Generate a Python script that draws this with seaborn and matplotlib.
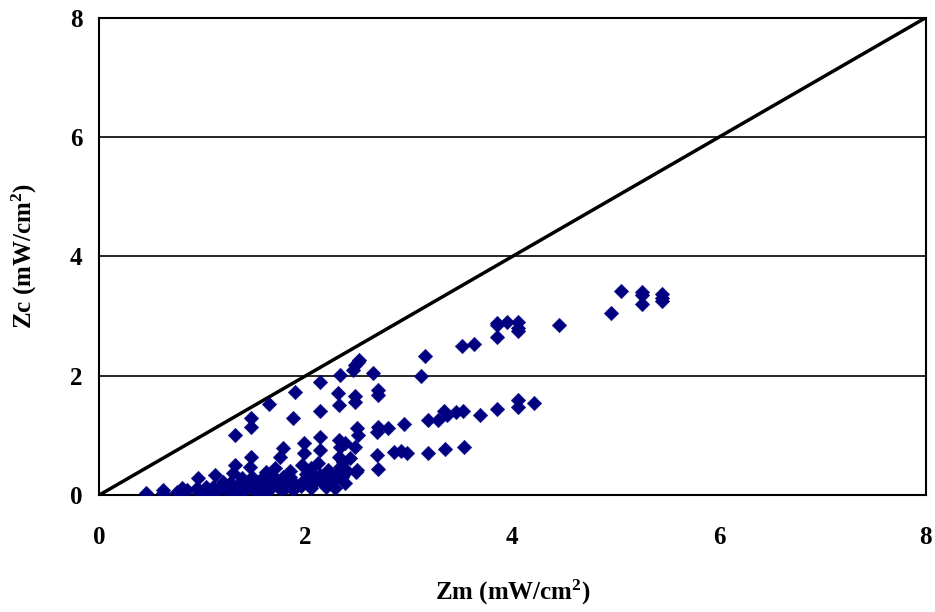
import matplotlib
matplotlib.use("Agg")
import matplotlib.pyplot as plt
import seaborn as sns
import pandas as pd

zm = [0.45, 0.62, 0.62, 0.75, 0.80, 0.85, 0.80, 0.95, 0.96, 0.97, 1.03, 1.05, 1.10, 1.12, 1.12,
      1.17, 1.20, 1.24, 1.27, 1.30, 1.32, 1.32, 1.33, 1.37, 1.38, 1.40, 1.42, 1.46, 1.47, 1.47,
      1.47, 1.48, 1.48, 1.50, 1.55, 1.56, 1.58, 1.62, 1.63, 1.64, 1.65, 1.66, 1.69, 1.70, 1.72,
      1.75, 1.78, 1.78, 1.80, 1.82, 1.85, 1.85, 1.88, 1.90, 1.90, 1.96, 1.98, 1.98, 1.98, 2.00,
      2.02, 2.05, 2.08, 2.12, 2.14, 2.14, 2.14, 2.14, 2.14, 2.17, 2.18, 2.22, 2.25, 2.27, 2.30,
      2.32, 2.32, 2.33, 2.33, 2.32, 2.31, 2.33, 2.35, 2.36, 2.38, 2.40, 2.43, 2.46, 2.48, 2.48,
      2.48, 2.49, 2.50, 2.50, 2.51, 2.51, 2.52, 2.48, 2.65, 2.69, 2.69, 2.70, 2.70, 2.70, 2.70,
      2.80, 2.85, 2.92, 2.95, 2.98, 3.12, 3.15, 3.18, 3.18, 3.28, 3.34, 3.35, 3.37, 3.45, 3.51,
      3.52, 3.53, 3.63, 3.69, 3.85, 3.85, 3.85, 3.85, 3.95, 4.05, 4.05, 4.05, 4.05, 4.05, 4.21,
      4.45, 4.95, 5.05, 5.25, 5.25, 5.25, 5.45, 5.45, 5.45,
      1.08, 1.15, 1.28, 1.35, 1.52, 1.60, 1.68, 1.75, 1.88, 1.95, 2.05, 2.10, 2.20, 2.28, 2.38]
zc = [0.03, 0.08, 0.03, 0.05, 0.12, 0.08, 0.02, 0.12, 0.28, 0.04, 0.14, 0.05, 0.14, 0.34, 0.05,
      0.10, 0.22, 0.08, 0.20, 0.37, 0.50, 1.00, 0.12, 0.05, 0.28, 0.18, 0.10, 0.47, 0.64, 1.14,
      1.29, 0.30, 0.20, 0.08, 0.15, 0.25, 0.05, 0.38, 0.20, 1.53, 0.10, 0.13, 0.30, 0.45, 0.18,
      0.64, 0.79, 0.30, 0.12, 0.22, 0.30, 0.40, 1.29, 1.73, 0.18, 0.50, 0.70, 0.87, 0.25, 0.35,
      0.29, 0.45, 0.20, 0.53, 0.76, 0.97, 1.41, 1.90, 0.34, 0.20, 0.28, 0.42, 0.25, 0.25, 0.35,
      0.64, 0.92, 0.81, 0.47, 1.51, 1.71, 2.01, 0.30, 0.55, 0.88, 0.40, 0.62, 2.10, 0.81, 1.56,
      1.66, 0.39, 0.42, 1.12, 1.00, 2.23, 2.27, 2.18, 2.05, 0.67, 1.06, 0.43, 1.14, 1.68, 1.76,
      1.12, 0.72, 0.74, 1.19, 0.71, 2.00, 2.33, 0.70, 1.26, 1.26, 1.41, 0.77, 1.34, 1.39, 2.50,
      1.41, 0.81, 2.53, 1.34, 1.44, 2.65, 2.85, 2.88, 2.90, 2.90, 2.80, 2.75, 1.59, 1.48, 1.55,
      2.85, 3.05, 3.42, 3.40, 3.35, 3.20, 3.37, 3.30, 3.25,
      0.02, 0.08, 0.04, 0.20, 0.12, 0.06, 0.22, 0.10, 0.08, 0.15, 0.12, 0.30, 0.14, 0.12, 0.20]

line_pts = [0, 8]
x_ticks = [0, 2, 4, 6, 8]
y_ticks = [0, 2, 4, 6, 8]

df = pd.DataFrame({"Zm": zm, "Zc": zc})

sns.set_theme(style="white")
plt.rcParams["font.family"] = ["Liberation Serif", "DejaVu Serif"]
plt.rcParams["font.weight"] = "bold"
plt.rcParams["mathtext.fontset"] = "custom"
plt.rcParams["mathtext.rm"] = "Liberation Serif:bold"
plt.rcParams["mathtext.bf"] = "Liberation Serif:bold"
plt.rcParams["mathtext.it"] = "Liberation Serif:bold"
plt.rcParams["text.color"] = "black"
plt.rcParams["axes.labelcolor"] = "black"
plt.rcParams["xtick.color"] = "black"
plt.rcParams["ytick.color"] = "black"

fig = plt.figure(figsize=(9.35, 6.12), dpi=100)
ax = fig.add_axes([0.106, 0.191, 0.884, 0.780])

for yv in y_ticks[1:-1]:
    ax.axhline(yv, color="black", lw=1.2, zorder=1)

sns.lineplot(x=line_pts, y=line_pts, color="black", lw=2.5, ax=ax, zorder=2)
sns.scatterplot(data=df, x="Zm", y="Zc", marker="D", color="#000080", s=55,
                edgecolor="#000080", linewidth=0.3, ax=ax, zorder=3)

ax.set_xlim(0, 8)
ax.set_ylim(0, 8)
ax.set_xticks(x_ticks)
ax.set_yticks(y_ticks)
ax.set_xticklabels([str(t) for t in x_ticks], fontsize=18, fontweight="bold", color="black")
ax.set_yticklabels([str(t) for t in y_ticks], fontsize=18, fontweight="bold", color="black")
ax.tick_params(axis="x", direction="in", length=7, width=1.2, color="black", pad=22)
ax.tick_params(axis="y", direction="out", length=0, width=1.2, color="black", pad=12)
ax.set_xlabel("Zm (mW/cm$^{2}$)", fontsize=18, fontweight="bold", labelpad=21, color="black")
ax.set_ylabel("Zc (mW/cm$^{2}$)", fontsize=18, fontweight="bold", labelpad=22, color="black")
for sp in ax.spines.values():
    sp.set_color("black")
    sp.set_linewidth(1.5)
    sp.set_visible(True)

fig.savefig("out.png", dpi=100)
